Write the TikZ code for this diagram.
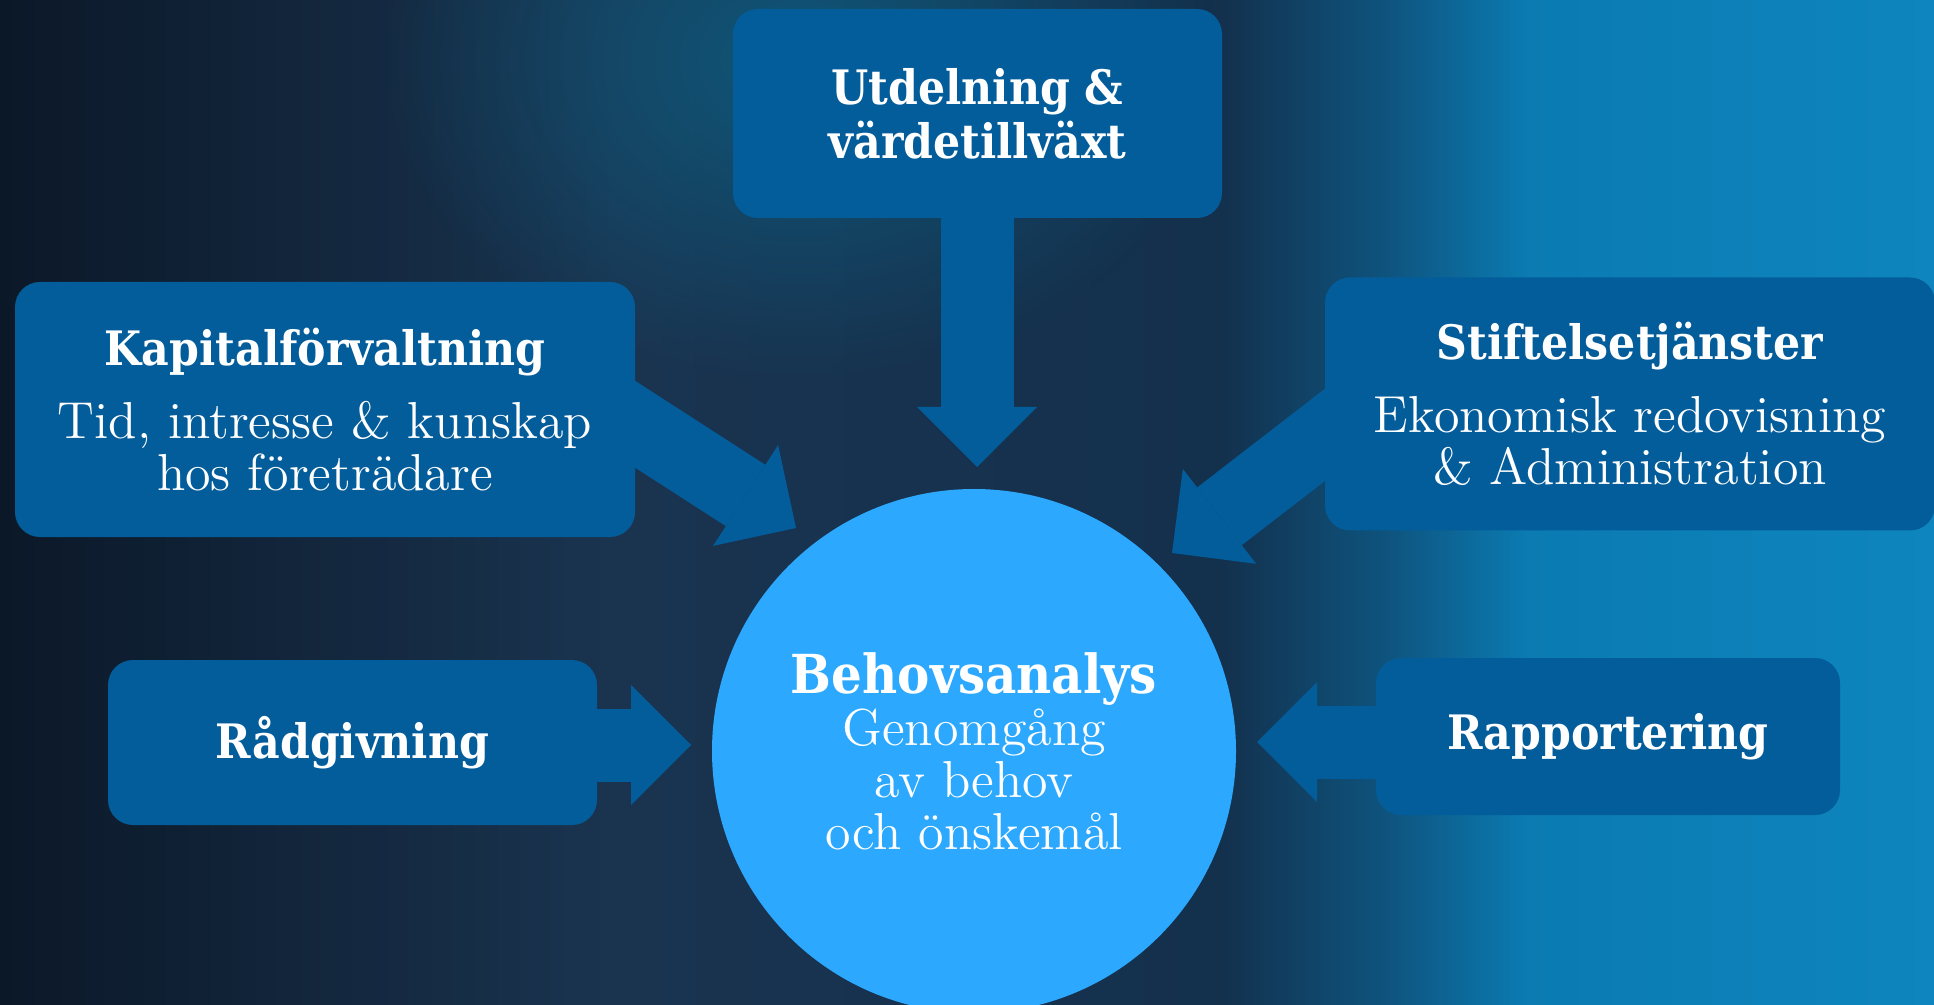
\documentclass[tikz,border=0pt]{standalone}
\usepackage{fontspec}
\newfontfamily\headfont{DejaVu Serif Condensed}
\usetikzlibrary{arrows.meta,fadings}

\definecolor{boxblue}{HTML}{045D9B}
\definecolor{circblue}{HTML}{2CA8FE}
\definecolor{glow}{HTML}{0A6A90}
\definecolor{bgA}{HTML}{0B1828}
\definecolor{bgB}{HTML}{1A3450}
\definecolor{bgC}{HTML}{13304C}
\definecolor{bgD}{HTML}{0E5580}
\definecolor{bgE}{HTML}{0B7BB2}
\definecolor{bgF}{HTML}{0E85BE}

\pgfdeclarehorizontalshading{bgshade}{100bp}{color(0bp)=(bgA); color(25bp)=(bgA); color(41bp)=(bgB); color(56.5bp)=(bgC); color(61bp)=(bgD); color(64.5bp)=(bgE); color(75bp)=(bgF); color(100bp)=(bgF)}
\tikzfading[name=glowfade, inner color=transparent!35, outer color=transparent!100]

\newcommand{\boxtitle}[1]{{\headfont\bfseries\fontsize{13.5}{15.4}\selectfont #1}}

\tikzset{
  box/.style={rectangle, rounded corners=0.25cm, fill=boxblue, text=white, align=center, inner sep=0pt},
  title/.style={font=\headfont\bfseries\fontsize{13.5}{15.4}\selectfont},
  body/.style={font=\fontsize{14.8}{14.8}\selectfont},
  blockarrow/.style={boxblue, line width=0.73cm, -{Triangle[length=0.6cm, width=1.2cm, line width=0pt]}}
}

\begin{document}
\begin{tikzpicture}
\useasboundingbox (0,0) rectangle (19.34,-10.05);
\shade[shading=bgshade] (0,0) rectangle (19.34,-10.05);
\fill[glow, path fading=glowfade] (8.0,-0.6) ellipse (4.2 and 3.2);

% arrow ends
\coordinate (kapout) at (5.51,-3.70);
\coordinate (stifout) at (14.05,-3.73);
\coordinate (radout) at (5.0,-7.45);
\coordinate (rapout) at (17.0,-7.42);
\coordinate (tipu) at (9.77,-4.67);
\coordinate (tipk) at (7.96,-5.28);
\coordinate (tips) at (11.72,-5.53);
\coordinate (tipr) at (6.91,-7.45);
\coordinate (tipp) at (12.57,-7.42);

\draw[blockarrow] (9.77,-1.2) -- (tipu);
\draw[blockarrow] (kapout) -- (tipk);
\draw[blockarrow] (stifout) -- (tips);
\draw[blockarrow] (radout) -- (tipr);
\draw[blockarrow] (rapout) -- (tipp);

\node[box, minimum width=4.89cm, minimum height=2.09cm, title] (utd) at (9.775,-1.135) {Utdelning \&\\värdetillväxt};
\node[box, minimum width=6.20cm, minimum height=2.55cm, body] (kap) at (3.25,-4.095) {\boxtitle{Kapitalförvaltning}\\[6pt]Tid, intresse \& kunskap\\hos företrädare};
\node[box, minimum width=6.10cm, minimum height=2.53cm, body] (stif) at (16.30,-4.04) {\boxtitle{Stiftelsetjänster}\\[6pt]Ekonomisk redovisning\\\& Administration};
\node[box, minimum width=4.89cm, minimum height=1.65cm, title] (rad) at (3.525,-7.425) {Rådgivning};
\node[box, minimum width=4.64cm, minimum height=1.57cm, title] (rap) at (16.08,-7.365) {Rapportering};

\node[circle, fill=circblue, minimum size=5.24cm, inner sep=0pt, text=white, align=center, body] (beh) at (9.74,-7.51) {{\headfont\bfseries\fontsize{15.3}{15.4}\selectfont Behovsanalys}\\Genomgång\\av behov\\och önskemål};

\end{tikzpicture}
\end{document}
